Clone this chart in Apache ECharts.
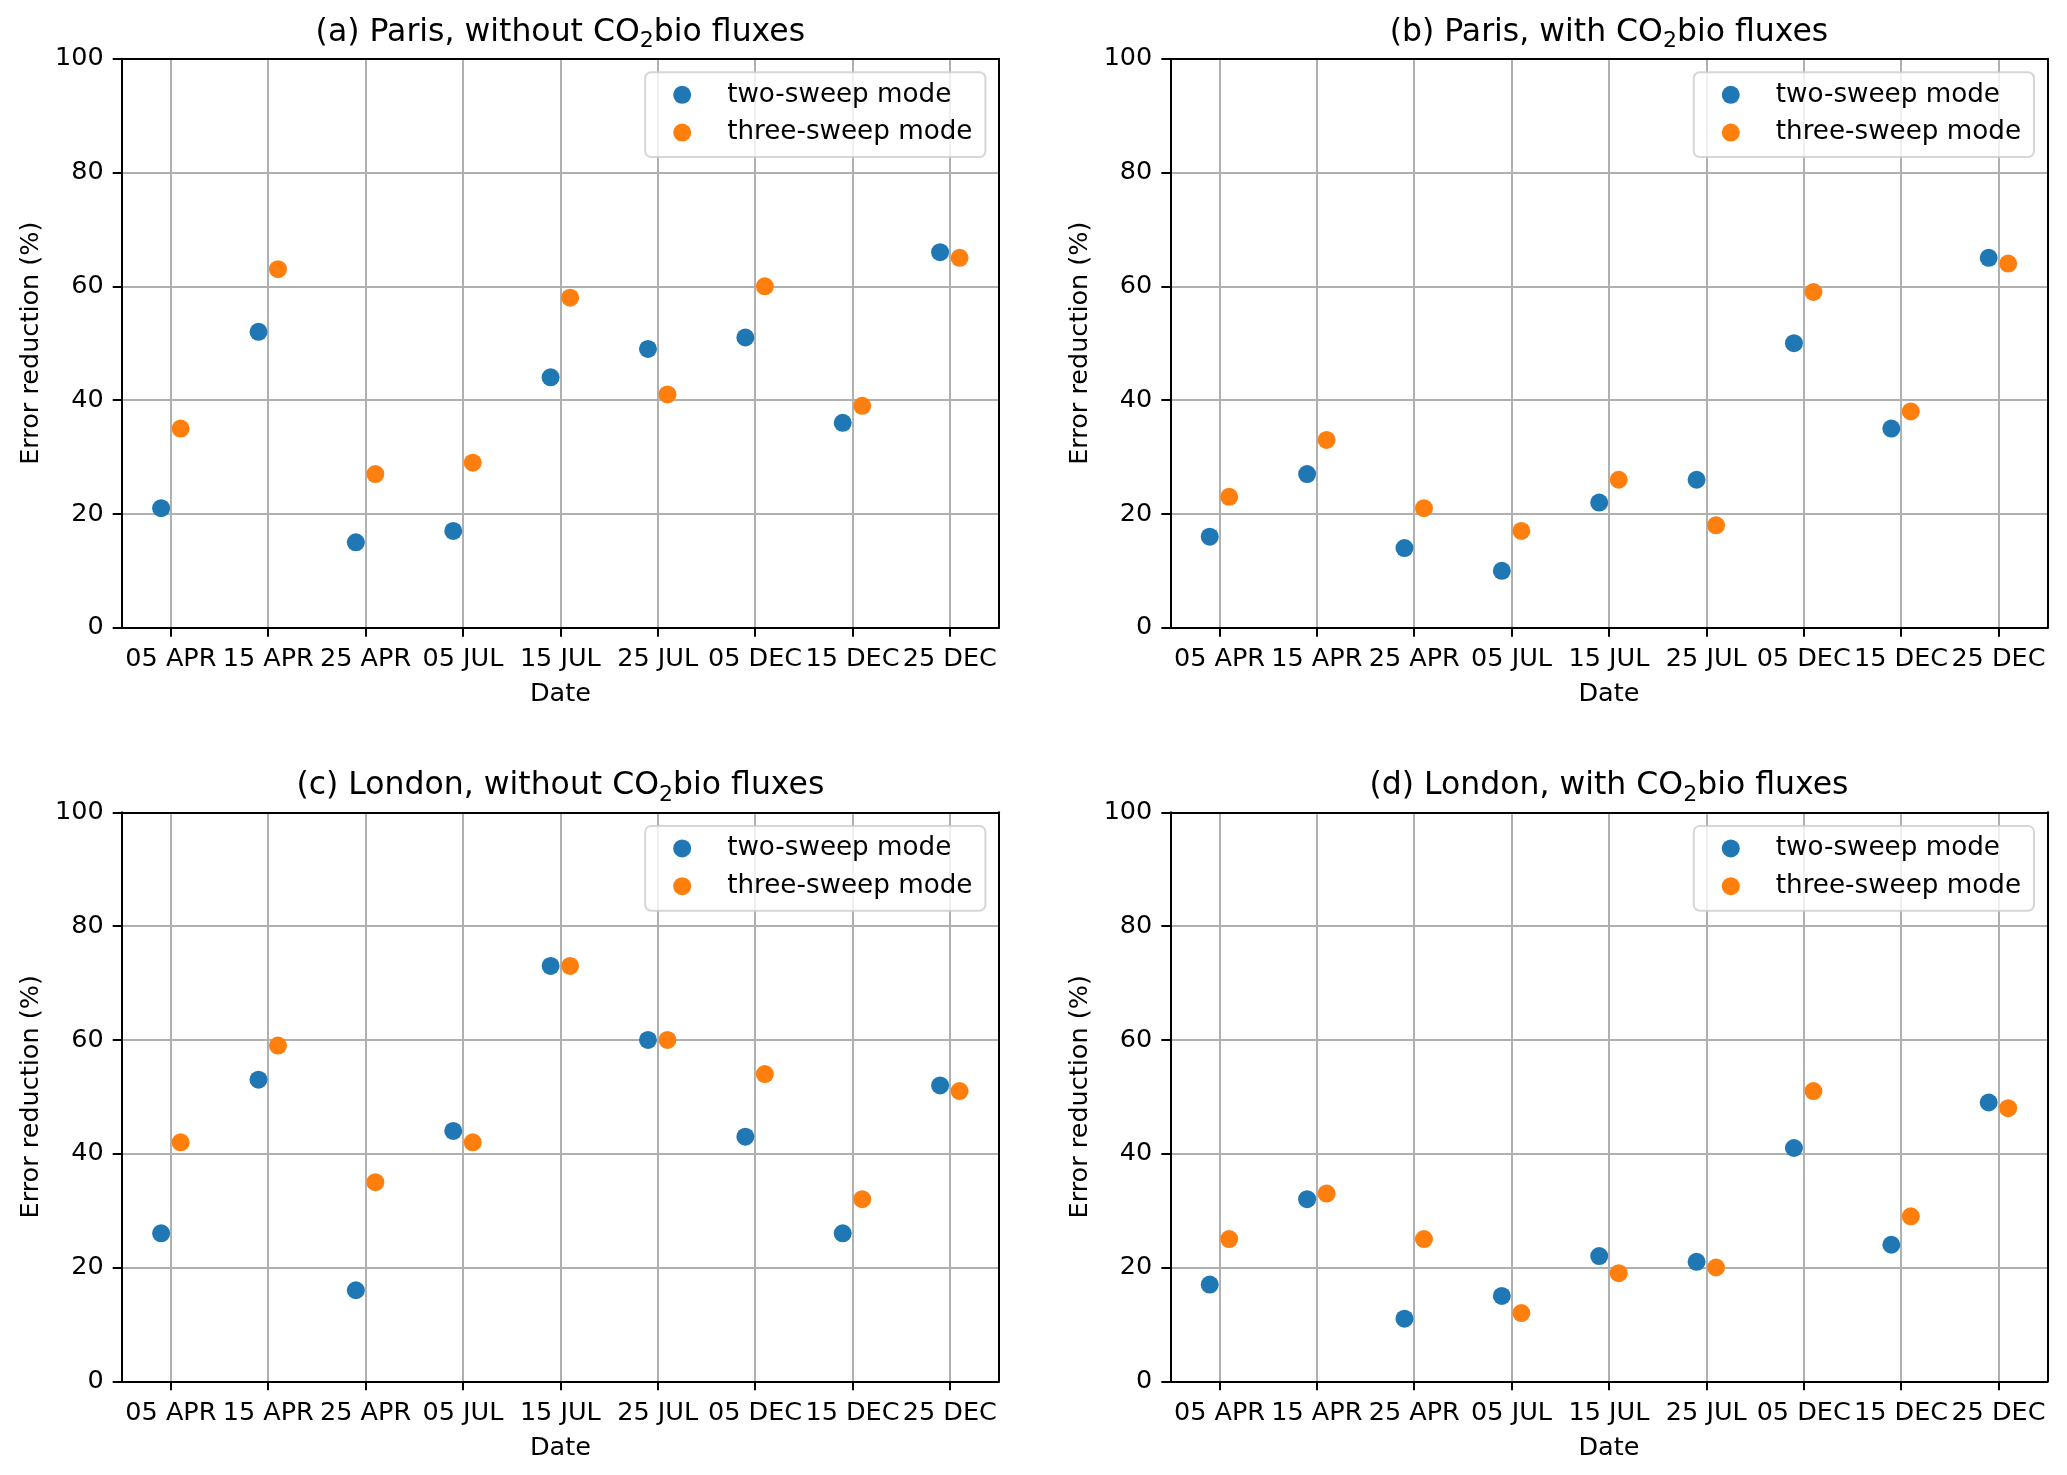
<!DOCTYPE html>
<html>
<head>
<meta charset="utf-8">
<script src="https://cdn.jsdelivr.net/npm/echarts@6/dist/echarts.min.js"></script>
<style>
  html, body { margin: 0; padding: 0; background: #ffffff; }
  #chart { width: 2067px; height: 1475px; }
</style>
</head>
<body>
<div id="chart"></div>
<script>
// ---------- data ----------
const categories = ['05 APR', '15 APR', '25 APR', '05 JUL', '15 JUL', '25 JUL', '05 DEC', '15 DEC', '25 DEC'];
const seriesNames = ['two-sweep mode', 'three-sweep mode'];
const yTicks = [0, 20, 40, 60, 80, 100];

const parisNoBioTwo   = [21, 52, 15, 17, 44, 49, 51, 36, 66];
const parisNoBioThree = [35, 63, 27, 29, 58, 41, 60, 39, 65];
const parisBioTwo     = [16, 27, 14, 10, 22, 26, 50, 35, 65];
const parisBioThree   = [23, 33, 21, 17, 26, 18, 59, 38, 64];
const londonNoBioTwo   = [26, 53, 16, 44, 73, 60, 43, 26, 52];
const londonNoBioThree = [42, 59, 35, 42, 73, 60, 54, 32, 51];
const londonBioTwo     = [17, 32, 11, 15, 22, 21, 41, 24, 49];
const londonBioThree   = [25, 33, 25, 12, 19, 20, 51, 29, 48];

const panelTitles = [
  ['(a) Paris, without CO', '2', 'bio fluxes'],
  ['(b) Paris, with CO', '2', 'bio fluxes'],
  ['(c) London, without CO', '2', 'bio fluxes'],
  ['(d) London, with CO', '2', 'bio fluxes']
];
const panelData = [
  [parisNoBioTwo, parisNoBioThree],
  [parisBioTwo, parisBioThree],
  [londonNoBioTwo, londonNoBioThree],
  [londonBioTwo, londonBioThree]
];

// ---------- layout / style ----------
const FONT = 'DejaVu Sans';
const TICK_FS = 25.5;
const LEGEND_FS = 26.2;
const TITLE_FS = 31.5;
const COLORS = ['#1f77b4', '#ff7f0e'];
const W = 2067;
const PLOT_W = 877.3, PLOT_H = 569;
const LEFTS = [121.7, 1170.3];
const TOPS = [58.7, 812.3];
const X_OFFSET = 0.1;

const chart = echarts.init(document.getElementById('chart'), null, { renderer: 'canvas' });

const grids = [], xAxes = [], yAxes = [], series = [], titles = [], legends = [];
const tickIdx = categories.map((c, i) => i);

for (let p = 0; p < 4; p++) {
  const left = LEFTS[p % 2];
  const top = TOPS[Math.floor(p / 2)];
  grids.push({ left: left, top: top, width: PLOT_W, height: PLOT_H, containLabel: false, outerBoundsMode: 'none' });

  // main x axis (bottom)
  xAxes.push({
    type: 'value', gridIndex: p, position: 'bottom', min: -0.505, max: 8.505,
    name: 'Date', nameLocation: 'middle', nameGap: 54,
    nameTextStyle: { fontFamily: FONT, fontSize: TICK_FS, color: '#000' },
    axisLine: { show: true, onZero: false, lineStyle: { color: '#000', width: 2 } },
    axisTick: { show: true, inside: false, length: 9, customValues: tickIdx, lineStyle: { color: '#000', width: 2 } },
    axisLabel: {
      show: true, customValues: tickIdx, margin: 19, hideOverlap: false,
      fontFamily: FONT, fontSize: TICK_FS, color: '#000',
      formatter: v => categories[Math.round(v)]
    },
    splitLine: { show: true, lineStyle: { color: '#b0b0b0', width: 2 } }
  });
  // top spine
  xAxes.push({
    type: 'value', gridIndex: p, position: 'top', min: -0.505, max: 8.505,
    axisLine: { show: true, onZero: false, lineStyle: { color: '#000', width: 2 } },
    axisTick: { show: false }, axisLabel: { show: false }, splitLine: { show: false }
  });
  // main y axis (left)
  yAxes.push({
    type: 'value', gridIndex: p, position: 'left', min: 0, max: 100, interval: 20,
    name: 'Error reduction (%)', nameLocation: 'middle', nameGap: 77,
    nameTextStyle: { fontFamily: FONT, fontSize: TICK_FS, color: '#000' },
    axisLine: { show: true, onZero: false, lineStyle: { color: '#000', width: 2 } },
    axisTick: { show: true, inside: false, length: 9, lineStyle: { color: '#000', width: 2 } },
    axisLabel: { show: true, margin: 18, fontFamily: FONT, fontSize: TICK_FS, color: '#000',
      customValues: yTicks },
    splitLine: { show: true, lineStyle: { color: '#b0b0b0', width: 2 } }
  });
  // right spine
  yAxes.push({
    type: 'value', gridIndex: p, position: 'right', min: 0, max: 100,
    axisLine: { show: true, onZero: false, lineStyle: { color: '#000', width: 2 } },
    axisTick: { show: false }, axisLabel: { show: false }, splitLine: { show: false }
  });

  for (let s = 0; s < 2; s++) {
    const off = s === 0 ? -X_OFFSET : X_OFFSET;
    series.push({
      type: 'scatter', name: seriesNames[s],
      xAxisIndex: p * 2, yAxisIndex: p * 2,
      symbol: 'circle', symbolSize: 18,
      itemStyle: { color: COLORS[s], opacity: 1 },
      emphasis: { disabled: true },
      data: panelData[p][s].map((v, i) => [i + off, v]),
      z: 3 + s
    });
  }

  const t = panelTitles[p];
  titles.push({
    text: '{n|' + t[0] + '}{s|' + t[1] + '}{n|' + t[2] + '}',
    left: left + PLOT_W / 2, top: top - 46, textAlign: 'center', padding: 0,
    textStyle: {
      fontWeight: 'normal',
      rich: {
        n: { fontFamily: FONT, fontSize: TITLE_FS, fontWeight: 'normal', color: '#000', lineHeight: 40 },
        s: { fontFamily: FONT, fontSize: TITLE_FS * 0.7, fontWeight: 'normal', color: '#000', lineHeight: 26, verticalAlign: 'bottom' }
      }
    }
  });

  legends.push({
    data: seriesNames.map(n => ({ name: n, icon: 'circle' })),
    orient: 'vertical',
    right: W - (left + PLOT_W - 13.6), top: top + 13.6,
    itemWidth: 18, itemHeight: 18, itemGap: 11.8,
    selectedMode: false,
    padding: [9.5, 13, 11.5, 28],
    backgroundColor: 'rgba(255,255,255,0.8)',
    borderColor: 'rgba(204,204,204,0.8)', borderWidth: 2, borderRadius: 6,
    textStyle: { fontFamily: FONT, fontSize: LEGEND_FS, color: '#000', lineHeight: 18, padding: [0, 0, 0, 31] }
  });
}

chart.setOption({
  animation: false,
  backgroundColor: '#ffffff',
  title: titles,
  legend: legends,
  grid: grids,
  xAxis: xAxes,
  yAxis: yAxes,
  series: series
});
</script>
</body>
</html>
